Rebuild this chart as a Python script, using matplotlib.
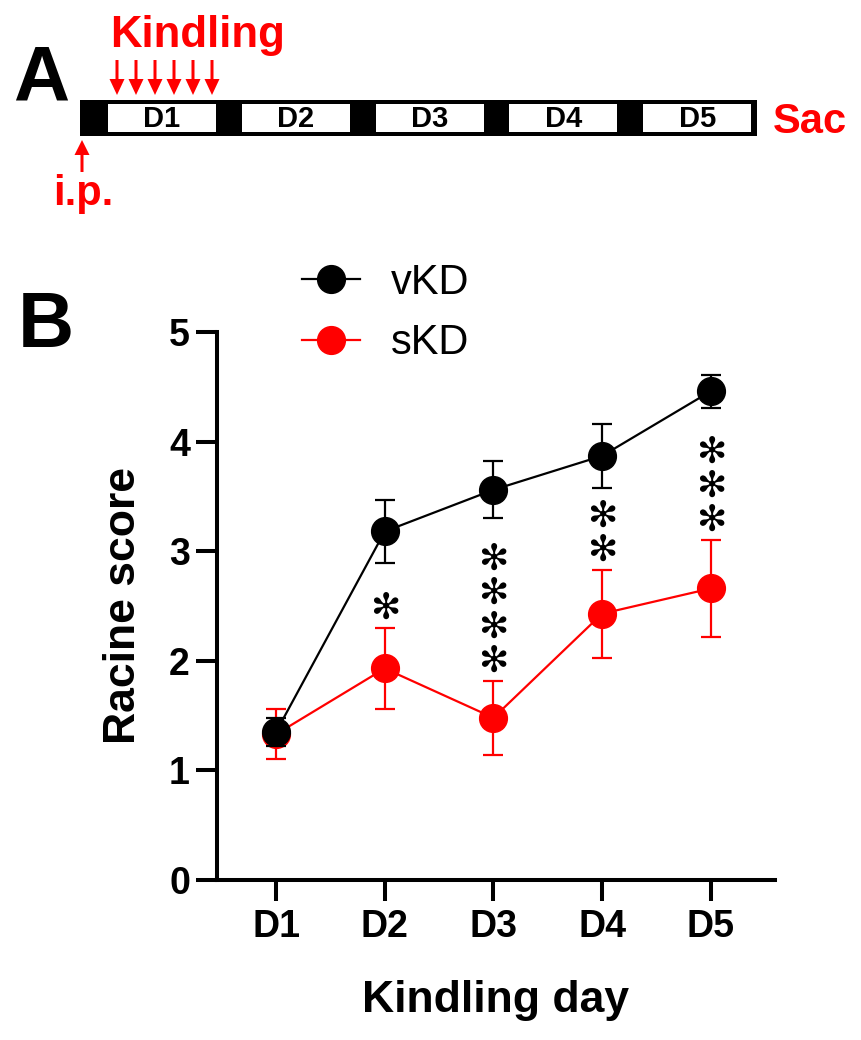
"""Racine score over kindling days, vKD vs sKD, with the kindling timeline above."""
import matplotlib
matplotlib.use("Agg")
import matplotlib.pyplot as plt
from matplotlib.patches import Rectangle

plt.rcParams["font.family"] = ["Liberation Sans", "DejaVu Sans"]

# --- data ---
days = ["D1", "D2", "D3", "D4", "D5"]
vkd_mean = [1.35, 3.18, 3.56, 3.87, 4.46]
vkd_sem = [0.13, 0.29, 0.26, 0.29, 0.15]
skd_mean = [1.33, 1.93, 1.48, 2.43, 2.66]
skd_sem = [0.23, 0.37, 0.34, 0.40, 0.44]
n_stars = [0, 1, 4, 2, 3]          # significance stars per day
n_kindling = 6                     # stimulations on day 1

W, H = 861, 1040
RED = "#ff0000"

fig = plt.figure(figsize=(W / 100, H / 100), dpi=100)

# overlay in pixel units for panel A and the panel letters
ov = fig.add_axes([0, 0, 1, 1])
ov.set_xlim(0, W); ov.set_ylim(H, 0); ov.axis("off")

ov.text(13, 100, "A", fontsize=56, fontweight="bold", ha="left", va="baseline")
ov.text(18, 347, "B", fontsize=56, fontweight="bold", ha="left", va="baseline")

# timeline bar: black strip with a white box per day
ov.add_patch(Rectangle((80, 100), 677, 36, facecolor="black", edgecolor="none"))
box_x0, box_step, box_w = 108, 133.8, 108
for i, d in enumerate(days):
    x0 = box_x0 + i * box_step
    ov.add_patch(Rectangle((x0, 104), box_w, 28, facecolor="white", edgecolor="none"))
    ov.text(x0 + box_w / 2, 119, d, fontsize=21, fontweight="bold", ha="center", va="center")

ov.text(110, 47, "Kindling", fontsize=31.5, fontweight="bold", color=RED, ha="left", va="baseline")
for i in range(n_kindling):
    ov.arrow(117 + 19 * i, 60, 0, 35, width=3, head_width=15, head_length=16,
             length_includes_head=True, color=RED, lw=0)
ov.arrow(82, 172, 0, -32, width=3, head_width=15, head_length=15,
         length_includes_head=True, color=RED, lw=0)
ov.text(83, 205, "i.p.", fontsize=30, fontweight="bold", color=RED, ha="center", va="baseline")
ov.text(773, 133, "Sac", fontsize=30, fontweight="bold", color=RED, ha="left", va="baseline")

# --- panel B ---
ax = fig.add_axes([217 / W, 1 - 880 / H, (775 - 217) / W, 548 / H])
x = list(range(1, len(days) + 1))

eb_s = ax.errorbar(x, skd_mean, yerr=skd_sem, color=RED, marker="o", ms=20, lw=1.6,
                   elinewidth=1.6, capsize=7.5, capthick=1.6, label="sKD", zorder=3)
eb_v = ax.errorbar(x, vkd_mean, yerr=vkd_sem, color="black", marker="o", ms=20, lw=1.6,
                   elinewidth=1.6, capsize=7.5, capthick=1.6, label="vKD", zorder=4)

# one stacked column of stars per day, sitting on the sKD upper error bar
for xi, m, s, k in zip(x, skd_mean, skd_sem, n_stars):
    if k:
        ax.text(xi, m + s + 0.02, "\n".join(["\u273b"] * k), fontsize=26, ha="center",
                va="bottom", linespacing=1.0, family=["DejaVu Sans"])

ax.set_xlim(0.457, 5.59)
ax.set_ylim(0, 5)
ax.set_xticks(x, days)
ax.set_yticks(range(0, 6))
for side in ("top", "right"):
    ax.spines[side].set_visible(False)
for side in ("left", "bottom"):
    ax.spines[side].set_linewidth(2.9)
ax.tick_params(axis="both", direction="out", length=15, width=2.9, labelsize=27)
ax.tick_params(axis="y", pad=4.5)
ax.tick_params(axis="x", pad=6)
for lab in ax.get_xticklabels() + ax.get_yticklabels():
    lab.set_fontweight("bold")

ax.set_xlabel("Kindling day", fontsize=32, fontweight="bold", va="top")
ax.xaxis.set_label_coords(0.5, -0.182)
ax.set_ylabel("Racine score", fontsize=32, fontweight="bold")
ax.yaxis.set_label_coords(-0.131, 0.5)

ax.legend(handles=[eb_v.lines[0], eb_s.lines[0]], labels=["vKD", "sKD"],
          loc="center left", bbox_to_anchor=(302 / W, 1 - 313 / H),
          bbox_transform=fig.transFigure, frameon=False, fontsize=30,
          handlelength=1.39, handletextpad=0.75, labelspacing=0.5,
          borderpad=0, borderaxespad=0, numpoints=1)

fig.savefig("out.png", dpi=100)
